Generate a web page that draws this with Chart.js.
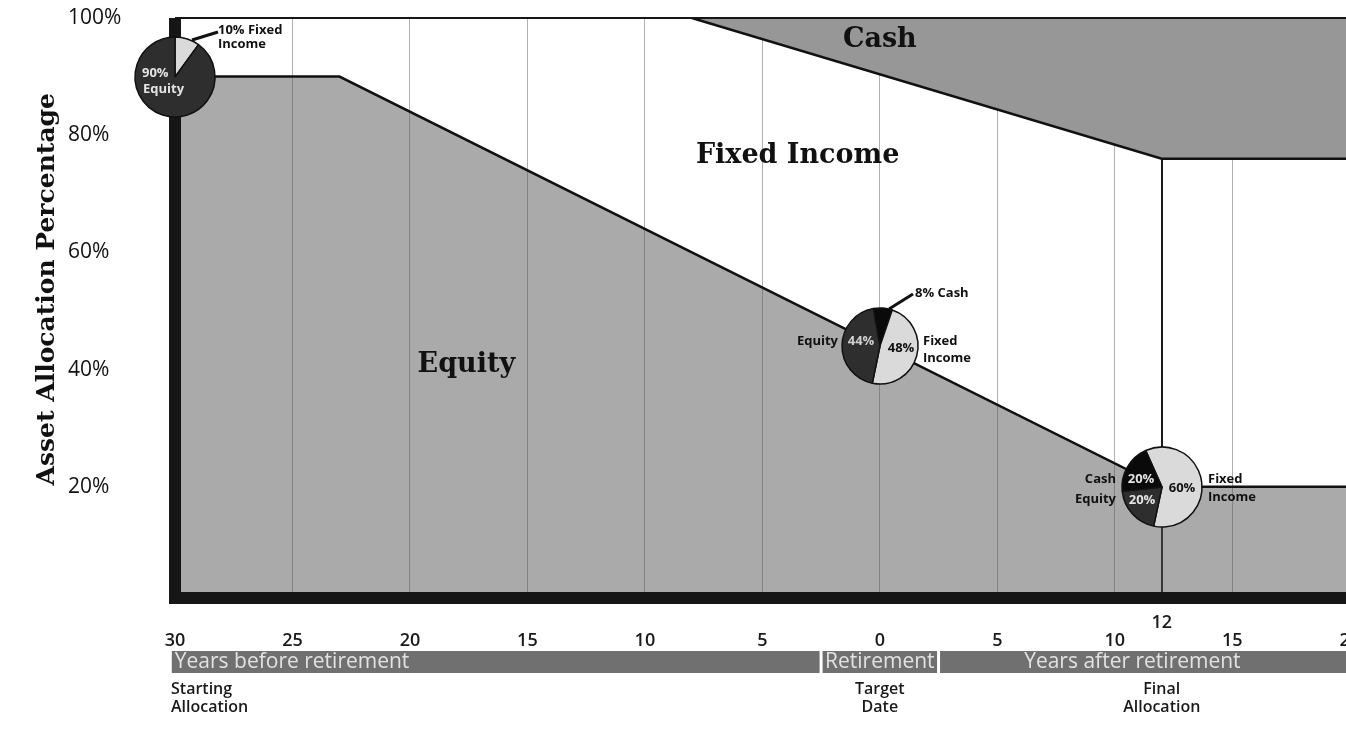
<!DOCTYPE html>
<html>
<head>
<meta charset="utf-8">
<script src="https://cdn.jsdelivr.net/npm/chart.js@4.4.1/dist/chart.umd.min.js"></script>
<style>
  html, body { margin: 0; padding: 0; background: #fff; overflow: hidden; }
  #wrap { position: relative; width: 1346px; height: 735px; overflow: hidden; }
  #glide { position: absolute; left: 0; top: 0; }
  .pie { position: absolute; }
</style>
</head>
<body>
<div id="wrap">
  <canvas id="glide" width="1360" height="735"></canvas>
  <canvas id="pieStart" class="pie" width="260" height="140"></canvas>
  <canvas id="pieTarget" class="pie" width="260" height="140"></canvas>
  <canvas id="pieFinal" class="pie" width="260" height="140"></canvas>
</div>
<script>
/* Glide path */
const equityYears = [-30, -23, 0, 12, 20];
const equityShare = [90, 90, 44, 20, 20];
const cashYears = [-8, 12, 20];
const cashFloor = [100, 76, 76];          // lower edge of the cash band
const yearTicks = [-30, -25, -20, -15, -10, -5, 0, 5, 10, 15, 20];
const finalYear = 12;
const shareTicks = [20, 40, 60, 80, 100];

/* Phase bands and notes under the axis */
const phaseNames = ['Years before retirement', 'Retirement', 'Years after retirement'];
const phaseEdges = [-30.2, -2.5, 2.5, 20.5];
const noteYears = [-30, 0, 12];
const noteLines = [['Starting', 'Allocation'], ['Target', 'Date'], ['Final', 'Allocation']];

/* Pie snapshots */
const pieYears = [-30, 0, 12];
const startLabels = ['Fixed Income', 'Equity'];
const startMix = [10, 90];
const targetLabels = ['Cash', 'Fixed Income', 'Equity'];
const targetMix = [8, 48, 44];
const finalLabels = ['Fixed Income', 'Equity', 'Cash'];
const finalMix = [60, 20, 20];

const sans = "'Open Sans', sans-serif";
const serif = "'DejaVu Serif', serif";
const pieColors = { 'Equity': '#2e2e2e', 'Fixed Income': '#dadada', 'Cash': '#0a0a0a' };

const pts = (xs, ys) => xs.map((t, i) => ({ x: t, y: ys[i] }));

/* frame bars, area names, phase bands */
const framePlugin = {
  id: 'frame',
  afterDraw(chart) {
    const { ctx, chartArea: a, scales: { x, y } } = chart;
    ctx.save();
    ctx.fillStyle = '#161616';
    ctx.fillRect(a.left - 6, a.top, 12, a.bottom - a.top);
    ctx.fillRect(a.left - 6, a.bottom - 12, a.right - a.left + 6, 12);
    ctx.fillRect(a.left, a.top - 1, a.right - a.left, 2);

    ctx.fillStyle = '#111';
    ctx.textAlign = 'center';
    ctx.textBaseline = 'middle';
    ctx.font = 'bold 27px ' + serif;
    ctx.fillText('Cash', x.getPixelForValue(0), y.getPixelForValue(96.2));
    ctx.fillText('Fixed Income', x.getPixelForValue(-3.5), y.getPixelForValue(76.5));
    ctx.fillText('Equity', x.getPixelForValue(-17.6), y.getPixelForValue(40.8));

    const top = a.bottom + 47;
    ctx.font = '21px ' + sans;
    phaseNames.forEach((name, i) => {
      const x0 = x.getPixelForValue(phaseEdges[i]) + 1.5;
      const x1 = x.getPixelForValue(phaseEdges[i + 1]) - 1.5;
      ctx.fillStyle = '#707070';
      ctx.fillRect(x0, top, x1 - x0, 22);
      ctx.fillStyle = '#e2e2e2';
      if (i === 0) {
        ctx.textAlign = 'left';
        ctx.fillText(name, x0 + 3, top + 11);
      } else {
        ctx.textAlign = 'center';
        ctx.fillText(name, (x0 + Math.min(x1, a.right - 25)) / 2, top + 11);
      }
    });

    ctx.fillStyle = '#1a1a1a';
    ctx.font = '600 16px ' + sans;
    noteLines.forEach((lines, i) => {
      const px = x.getPixelForValue(noteYears[i]);
      ctx.textAlign = i === 0 ? 'left' : 'center';
      lines.forEach((t, j) => ctx.fillText(t, i === 0 ? px - 4 : px, a.bottom + 85 + j * 18));
    });
    ctx.restore();
  }
};

const main = new Chart(document.getElementById('glide'), {
  type: 'line',
  data: {
    datasets: [{
      label: 'Equity',
      data: pts(equityYears, equityShare),
      fill: 'origin',
      backgroundColor: 'rgba(85, 85, 85, 0.5)',
      borderColor: '#111',
      borderWidth: 2.5,
      pointRadius: 0
    }, {
      label: 'Cash',
      data: pts(cashYears, cashFloor),
      fill: 'end',
      backgroundColor: '#979797',
      borderColor: '#111',
      borderWidth: 2.5,
      pointRadius: 0
    }]
  },
  options: {
    responsive: false,
    animation: false,
    layout: { padding: { left: 68, right: 10, top: 18, bottom: 0 } },
    plugins: { legend: { display: false }, tooltip: { enabled: false } },
    scales: {
      x: {
        type: 'linear', min: -30, max: 20, weight: 1,
        afterBuildTicks: s => { s.ticks = yearTicks.map(v => ({ value: v })); },
        afterFit: s => { s.height = 105; },
        grid: { color: '#b0b0b0', lineWidth: 1, drawTicks: false },
        border: { display: false },
        ticks: { padding: 0, maxRotation: 0, autoSkip: false, color: '#1a1a1a',
                 font: { family: sans, size: 18, weight: '600' }, callback: v => Math.abs(v) }
      },
      x12: {
        type: 'linear', position: 'bottom', min: -30, max: 20, weight: 0, z: 1,
        afterBuildTicks: s => { s.ticks = [{ value: finalYear }]; },
        afterFit: s => { s.height = 26; },
        grid: { color: '#1a1a1a', lineWidth: 2, drawTicks: false },
        border: { display: false },
        ticks: { padding: 8, maxRotation: 0, color: '#1a1a1a',
                 font: { family: sans, size: 18, weight: '600' } }
      },
      y: {
        min: 0, max: 100,
        afterBuildTicks: s => { s.ticks = shareTicks.map(v => ({ value: v })); },
        afterFit: s => { s.width = 107; },
        grid: { display: false },
        border: { display: false },
        ticks: { crossAlign: 'far', color: '#111', font: { family: sans, size: 21 }, callback: v => v + '%' },
        title: { display: true, text: '     Asset Allocation Percentage', color: '#111',
                 font: { family: serif, size: 25, weight: 'bold' }, padding: { top: -36, bottom: 0 } }
      }
    }
  },
  plugins: [framePlugin]
});

/* labels around each pie, offsets from its centre */
const pieNotes = (notes, leader) => ({
  id: 'notes',
  afterDraw(chart) {
    const { ctx, chartArea: a } = chart;
    const cx = (a.left + a.right) / 2, cy = (a.top + a.bottom) / 2;
    ctx.save();
    if (leader) {
      ctx.strokeStyle = '#111';
      ctx.lineWidth = 3;
      ctx.beginPath();
      ctx.moveTo(cx + leader[0], cy + leader[1]);
      ctx.lineTo(cx + leader[2], cy + leader[3]);
      ctx.stroke();
    }
    ctx.font = 'bold 13px ' + sans;
    ctx.textBaseline = 'middle';
    notes.forEach(([t, dx, dy, align, color]) => {
      ctx.textAlign = align;
      ctx.fillStyle = color || '#111';
      ctx.fillText(t, cx + dx, cy + dy);
    });
    ctx.restore();
  }
});

function pieAt(id, labels, values, year, rotation, radius, notes, leader) {
  const i = equityYears.indexOf(year);
  const px = main.scales.x.getPixelForValue(year);
  const py = main.scales.y.getPixelForValue(equityShare[i]);
  const el = document.getElementById(id);
  el.style.left = (px - 130) + 'px';
  el.style.top = (py - 70) + 'px';
  new Chart(el, {
    type: 'pie',
    data: {
      labels,
      datasets: [{
        data: values,
        backgroundColor: labels.map(l => pieColors[l]),
        borderColor: '#111',
        borderWidth: 1.5,
        radius
      }]
    },
    options: {
      responsive: false,
      animation: false,
      rotation,
      layout: { padding: 0 },
      plugins: { legend: { display: false }, tooltip: { enabled: false } }
    },
    plugins: [pieNotes(notes, leader)]
  });
}

pieAt('pieStart', startLabels, startMix, pieYears[0], 0, 40, [
  ['90%', -33, -4, 'left', '#e4e4e4'],
  ['Equity', -32, 12, 'left', '#e4e4e4'],
  ['10% Fixed', 43, -47, 'left'],
  ['Income', 43, -33, 'left']
], [17, -37, 43, -45]);

pieAt('pieTarget', targetLabels, targetMix, pieYears[1], -10, 38, [
  ['Equity', -42, -5, 'right'],
  ['44%', -19, -5, 'center', '#d0d0d0'],
  ['48%', 21, 2, 'center'],
  ['Fixed', 43, -5, 'left'],
  ['Income', 43, 12, 'left'],
  ['8% Cash', 35, -53, 'left']
], [9, -37, 33, -52]);

pieAt('pieFinal', finalLabels, finalMix, pieYears[2], -24, 40, [
  ['Cash', -46, -8, 'right'],
  ['Equity', -46, 12, 'right'],
  ['20%', -21, -8, 'center', '#e4e4e4'],
  ['20%', -20, 13, 'center', '#e4e4e4'],
  ['60%', 20, 1, 'center'],
  ['Fixed', 46, -8, 'left'],
  ['Income', 46, 10, 'left']
]);
</script>
</body>
</html>
